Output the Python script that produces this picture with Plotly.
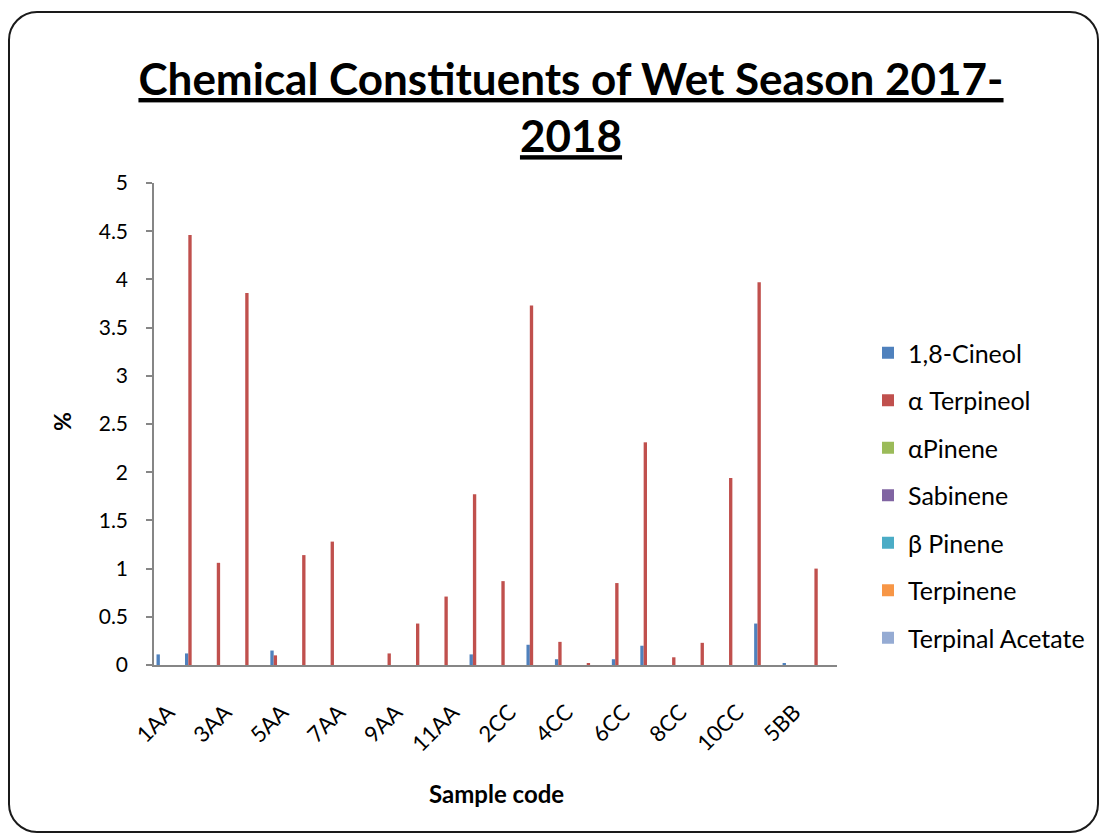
import plotly.graph_objects as go

# Sample codes (24 samples; every other one is labelled on the axis)
samples = ["1AA", "2AA", "3AA", "4AA", "5AA", "6AA", "7AA", "8AA", "9AA", "10AA", "11AA",
           "1CC", "2CC", "3CC", "4CC", "5CC", "6CC", "7CC", "8CC", "9CC", "10CC", "11CC",
           "5BB", "6BB"]
tick_labels = samples[::2]

# Percent composition per constituent
cineol = [0.11, 0.12, 0, 0, 0.15, 0, 0, 0, 0, 0, 0, 0.11, 0, 0.21, 0.06, 0, 0.06, 0.20,
          0, 0, 0, 0.43, 0.02, 0]
a_terpineol = [0, 4.46, 1.06, 3.86, 0.10, 1.14, 1.28, 0, 0.12, 0.43, 0.71, 1.77, 0.87, 3.73,
               0.24, 0.02, 0.85, 2.31, 0.08, 0.23, 1.94, 3.97, 0, 1.00]
a_pinene = [0] * 24
sabinene = [0] * 24
b_pinene = [0] * 24
terpinene = [0] * 24
terpinal_acetate = [0] * 24

series_names = ["1,8-Cineol", "α Terpineol", "αPinene", "Sabinene", "β Pinene",
                "Terpinene", "Terpinal Acetate"]
series_values = [cineol, a_terpineol, a_pinene, sabinene, b_pinene, terpinene, terpinal_acetate]
series_colors = ["#4F81BD", "#C0504D", "#9BBB59", "#8064A2", "#4BACC6", "#F79646", "#95ABD3"]

W, H = 1100, 834
L, R, T, B = 154, 263, 183, 169
PW, PH = W - L - R, H - T - B

FONT = "Lato"

fig = go.Figure()
for i, (name, vals, col) in enumerate(zip(series_names, series_values, series_colors)):
    fig.add_trace(go.Bar(
        x=samples, y=vals, name=name,
        marker=dict(color=col, line=dict(width=0)),
        legendgroup=f"g{i}",
    ))


def px(x, y):
    return (x - L) / PW, (H - B - y) / PH


def rounded_rect(x0, y0, x1, y1, r):
    k = 0.55 * r

    def P(x, y):
        a, b = px(x, y)
        return f"{a:.5f},{b:.5f}"
    d = f"M{P(x0 + r, y0)} L{P(x1 - r, y0)} "
    d += f"C{P(x1 - r + k, y0)} {P(x1, y0 + r - k)} {P(x1, y0 + r)} "
    d += f"L{P(x1, y1 - r)} "
    d += f"C{P(x1, y1 - r + k)} {P(x1 - r + k, y1)} {P(x1 - r, y1)} "
    d += f"L{P(x0 + r, y1)} "
    d += f"C{P(x0 + r - k, y1)} {P(x0, y1 - r + k)} {P(x0, y1 - r)} "
    d += f"L{P(x0, y0 + r)} "
    d += f"C{P(x0, y0 + r - k)} {P(x0 + r - k, y0)} {P(x0 + r, y0)} Z"
    return d


fig.add_shape(type="path", xref="paper", yref="paper",
              path=rounded_rect(9, 12, 1098, 832, 28),
              line=dict(color="#1a1a1a", width=2), fillcolor="rgba(0,0,0,0)", layer="above")

fig.update_layout(
    width=W, height=H,
    margin=dict(l=L, r=R, t=T, b=B),
    paper_bgcolor="white", plot_bgcolor="white",
    barmode="group", bargap=1.5 / 8.5, bargroupgap=0,
    font=dict(family=FONT, color="black"),
    title=dict(
        text="<b><u>Chemical Constituents of Wet Season 2017-</u></b><br><b><u>2018</u></b>",
        x=571 / W, xanchor="center", xref="container",
        y=1 - 95 / H, yanchor="top", yref="container",
        font=dict(family=FONT, size=44, color="black"),
    ),
    xaxis=dict(
        type="category", tickmode="array", tickvals=tick_labels, ticktext=tick_labels,
        tickangle=-45, tickfont=dict(size=22, family=FONT),
        showline=True, linecolor="#868686", linewidth=1.5,
        ticks="", showgrid=False, zeroline=False, ticklabelstandoff=24,
    ),
    yaxis=dict(
        range=[0, 5], dtick=0.5, tickfont=dict(size=21, family=FONT),
        showline=True, linecolor="#868686", linewidth=1.5,
        ticks="outside", ticklen=6, tickcolor="#868686", tickwidth=1.5,
        showgrid=False, zeroline=False, ticklabelstandoff=14,
    ),
    legend=dict(
        xref="container", yref="container",
        x=868 / W, y=1 - 330 / H, xanchor="left", yanchor="top",
        font=dict(size=25, family=FONT), traceorder="grouped", tracegroupgap=12,
        bgcolor="rgba(0,0,0,0)",
    ),
    showlegend=True,
)

fig.add_annotation(text="<b>%</b>", xref="paper", yref="paper",
                   x=px(62, 0)[0], y=px(0, 422)[1], xanchor="center", yanchor="middle",
                   showarrow=False, textangle=-90,
                   font=dict(size=23, family=FONT))
fig.add_annotation(text="<b>Sample code</b>", xref="paper", yref="paper",
                   x=px(496, 0)[0], y=px(0, 793)[1], xanchor="center", yanchor="middle",
                   showarrow=False,
                   font=dict(size=24, family=FONT))

fig.write_html("out.html")
